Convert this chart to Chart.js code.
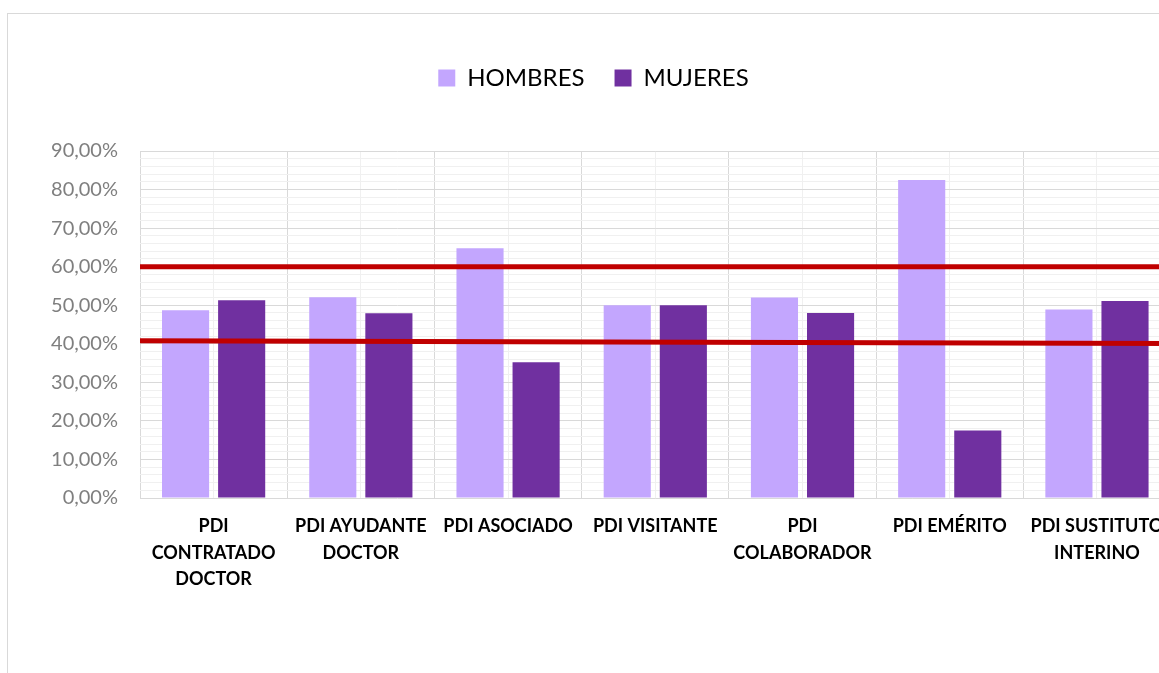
<!DOCTYPE html>
<html><head><meta charset="utf-8">
<script src="https://cdn.jsdelivr.net/npm/chart.js@4/dist/chart.umd.min.js"></script>
<style>
html,body{margin:0;padding:0;background:#fff;overflow:hidden;width:1159px;height:673px;}
#box{position:absolute;left:7px;top:13px;width:1220px;height:720px;border:1px solid #d9d9d9;background:#fff;}
.wrap{position:absolute;left:0;top:0;width:1171px;height:700px;}
#wrap2{pointer-events:none;}
</style></head><body>
<div id="box">
  <div class="wrap" id="wrap1"><canvas id="c"></canvas></div>
  <div class="wrap" id="wrap2"><canvas id="c2"></canvas></div>
</div>
<script>
const categories = [['PDI','CONTRATADO','DOCTOR'],['PDI AYUDANTE','DOCTOR'],['PDI ASOCIADO'],['PDI VISITANTE'],['PDI','COLABORADOR'],['PDI EMÉRITO'],['PDI SUSTITUTO','INTERINO']];
const hombres = [48.7, 52.1, 64.8, 50.0, 52.0, 82.5, 48.9];
const mujeres = [51.3, 47.9, 35.2, 50.0, 48.0, 17.5, 51.1];
const refLineX = [0, 7];
const upperLine = [60.0, 60.0];
const lowerLine = [40.8, 40.1];
const yMax = 90;

const FONT = "Lato, 'Open Sans', 'Liberation Sans', sans-serif";
const Y_WIDTH = 132, X_HEIGHT = 216;

const legendSpacer = {
  id: 'legendSpacer',
  beforeUpdate(chart) {
    if (chart.legend && !chart.legend._patched) {
      const orig = chart.legend.fit;
      chart.legend.fit = function () { orig.call(this); this.height += 51; };
      chart.legend._patched = true;
    }
  }
};

const barChart = new Chart(document.getElementById('c'), {
  type: 'bar',
  data: {
    labels: categories,
    datasets: [
      { label: 'HOMBRES', data: hombres, backgroundColor: '#C3A6FE',
        categoryPercentage: 0.762, barPercentage: 0.84 },
      { label: 'MUJERES', data: mujeres, backgroundColor: '#7030A0',
        categoryPercentage: 0.762, barPercentage: 0.84 }
    ]
  },
  options: {
    responsive: true,
    maintainAspectRatio: false,
    animation: false,
    layout: { padding: { top: 22, left: 0, right: 0, bottom: 0 } },
    plugins: {
      tooltip: { enabled: false },
      legend: {
        position: 'top',
        labels: {
          font: { family: FONT, size: 24 },
          color: '#000',
          boxWidth: 17, boxHeight: 17, padding: 30
        }
      }
    },
    scales: {
      x: {
        type: 'category', position: 'bottom', offset: true,
        grid: { offset: false, color: '#f0f0f0', drawTicks: false },
        border: { display: false },
        ticks: { font: { family: FONT, size: 18, weight: 'bold', lineHeight: 1.47 }, color: '#000',
                 padding: 15, maxRotation: 0, autoSkip: false },
        afterFit: (s) => { s.height = X_HEIGHT; }
      },
      xb: {
        type: 'linear', position: 'top', min: 0, max: categories.length, offset: false,
        ticks: { stepSize: 1, display: false },
        grid: { offset: false, color: '#d9d9d9', drawTicks: false },
        border: { display: false },
        afterFit: (s) => { s.height = 0; }
      },
      y: {
        min: 0, max: yMax,
        ticks: { stepSize: 2, autoSkip: false, color: '#7f7f7f', padding: 22,
                 font: { family: FONT, size: 20 },
                 callback: (v) => (Math.round(v) % 10 === 0 ? Math.round(v).toFixed(2).replace('.', ',') + '%' : '') },
        grid: { color: (ctx) => (Math.round(ctx.tick.value) % 10 === 0 ? '#d9d9d9' : '#f0f0f0'), drawTicks: false },
        border: { display: false },
        afterFit: (s) => { s.width = Y_WIDTH; }
      }
    }
  },
  plugins: [legendSpacer]
});

// Overlay chart for the two red reference lines, sharing the same plot area and y range
const area = barChart.chartArea;
new Chart(document.getElementById('c2'), {
  type: 'line',
  data: {
    datasets: [
      { label: 'ref60', data: refLineX.map((x, i) => ({x, y: upperLine[i]})),
        borderColor: '#C00000', borderWidth: 5, pointRadius: 0 },
      { label: 'ref40', data: refLineX.map((x, i) => ({x, y: lowerLine[i]})),
        borderColor: '#C00000', borderWidth: 5, pointRadius: 0 }
    ]
  },
  options: {
    responsive: true,
    maintainAspectRatio: false,
    animation: false,
    layout: { padding: { top: area.top, left: area.left - Y_WIDTH, right: barChart.width - area.right,
                         bottom: barChart.height - area.bottom - X_HEIGHT } },
    plugins: { legend: { display: false }, tooltip: { enabled: false } },
    scales: {
      x: { type: 'linear', min: 0, max: categories.length, offset: false,
           ticks: { display: false }, grid: { display: false }, border: { display: false },
           afterFit: (s) => { s.height = X_HEIGHT; } },
      y: { min: 0, max: yMax,
           ticks: { display: false }, grid: { display: false }, border: { display: false },
           afterFit: (s) => { s.width = Y_WIDTH; } }
    }
  }
});
</script>
</body></html>
